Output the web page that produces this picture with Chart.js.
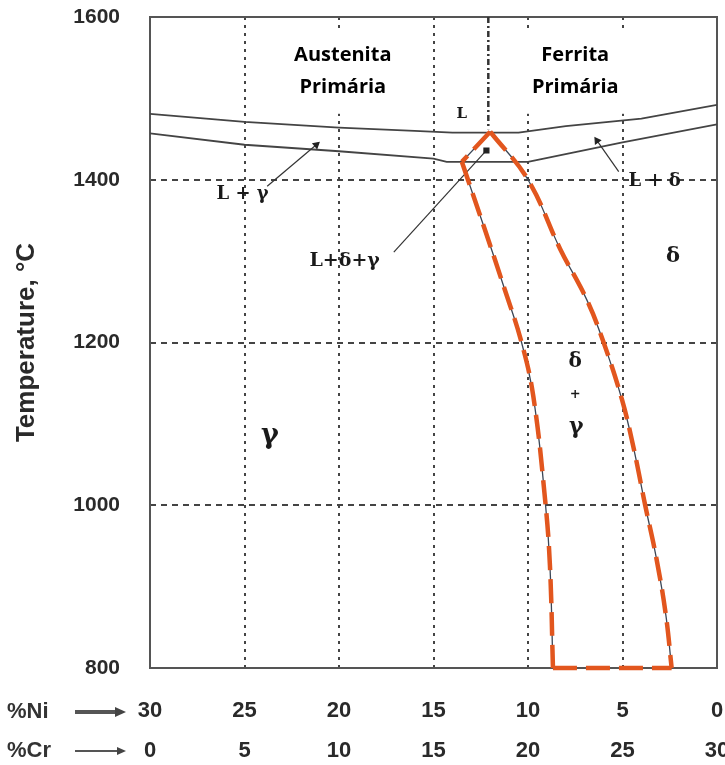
<!DOCTYPE html>
<html>
<head>
<meta charset="utf-8">
<script src="https://cdn.jsdelivr.net/npm/chart.js@4.4.1/dist/chart.umd.min.js"></script>
<style>
  html, body { margin: 0; padding: 0; background: #fff; }
  #wrap { width: 725px; height: 765px; }
</style>
</head>
<body>
<div id="wrap"><canvas id="chart"></canvas></div>
<script>
const niTicks = [30, 25, 20, 15, 10, 5, 0];
const crTicks = [0, 5, 10, 15, 20, 25, 30];
const tempTicks = [800, 1000, 1200, 1400, 1600];

// liquidus (upper) and solidus (lower)
const liquidusNi = [30, 25, 20, 16, 14, 10.5, 8, 4, 0];
const liquidusT  = [1481, 1471, 1464, 1460, 1458, 1458, 1466, 1475, 1492];
const solidusNi  = [30, 25, 20, 15, 14.3, 10, 7.5, 5, 0];
const solidusT   = [1457, 1443, 1435, 1426, 1422, 1422, 1434, 1446, 1468];

// boundaries of the delta + gamma field (first point = peak)
const gammaSideNi = [12.0, 13.5, 12.3, 11.3, 10.34, 9.72, 9.1, 8.84, 8.68];
const gammaSideT  = [1459, 1422, 1340, 1270, 1200, 1134, 1008, 926, 800];
const deltaSideNi = [12.0, 10.0, 8.3, 6.9, 6.03, 5.03, 4.4, 3.8, 3.2, 2.7, 2.4];
const deltaSideT  = [1459, 1400, 1315, 1253, 1202, 1130, 1069, 1000, 934, 864, 800];

// vertical mark at the eutectic composition
const eutecticNi = [12.1, 12.1];
const eutecticT  = [1600, 1462];

// leader lines for the small fields (from label to field)
const leaderNi = [[23.8, 21.2], [17.1, 12.2], [5.2, 6.35]];
const leaderT  = [[1392, 1443], [1311, 1436], [1410, 1448]];

// field labels
const fieldText = ['L + γ', 'L+δ+γ', 'L + δ', 'L', 'δ', 'δ', '+', 'γ', 'γ'];
const fieldNi   = [25.1, 19.7, 3.3, 13.5, 2.33, 7.5, 7.5, 7.45, 23.65];
const fieldT    = [1382, 1300, 1398, 1481, 1306, 1176, 1136, 1096, 1085];
const fieldSize = [18, 19, 18, 15, 21, 20, 13, 22, 27];

// the two boxed captions
const captionText = [['Austenita', 'Primária'], ['Ferrita', 'Primária']];
const captionNi   = [19.8, 7.5];
const captionT    = [1553, 1513];

const RED = '#e2561e';
const DARK = '#3b4656';
const sans = "'Liberation Sans', Arial, sans-serif";

const pts = (xs, ys) => xs.map((x, i) => ({ x: x, y: ys[i] }));

const gammaPts = pts(gammaSideNi, gammaSideT);
const deltaPts = pts(deltaSideNi, deltaSideT);
const gammaCurve = gammaPts.slice(1);
const bottomEdge = [gammaPts[gammaPts.length - 1], deltaPts[deltaPts.length - 1]];

const datasets = [
  { data: gammaPts.slice(0, 2), borderColor: RED, borderWidth: 4.5, borderDash: [24, 9], order: 0 },
  { data: gammaCurve, borderColor: RED, borderWidth: 4.5, borderDash: [24, 9], tension: 0.4, order: 0, clip: 8 },
  { data: bottomEdge, borderColor: RED, borderWidth: 4.5, borderDash: [24, 9], order: 0, clip: 8 },
  { data: deltaPts, borderColor: RED, borderWidth: 4.5, borderDash: [24, 9], tension: 0.4, order: 0, clip: 8 },
  { data: gammaPts.slice(0, 2), borderColor: DARK, borderWidth: 1.3, order: 1 },
  { data: gammaCurve, borderColor: DARK, borderWidth: 1.3, tension: 0.4, order: 1 },
  { data: deltaPts, borderColor: DARK, borderWidth: 1.3, tension: 0.4, order: 1 },
  { data: pts(liquidusNi, liquidusT), borderColor: '#444', borderWidth: 1.8, order: 2 },
  { data: pts(solidusNi, solidusT), borderColor: '#444', borderWidth: 1.8, order: 2 },
  { data: pts(eutecticNi, eutecticT), borderColor: '#333', borderWidth: 2.5, borderDash: [6, 3, 2, 3], order: 2 }
];

const leaderEnds = [
  { style: 'triangle', rot: 50, r: 3.5 },
  { style: 'rect', rot: 0, r: 3.5 },
  { style: 'triangle', rot: -34, r: 3.5 }
];
leaderNi.forEach((xs, i) => {
  datasets.push({
    data: pts(xs, leaderT[i]),
    borderColor: '#333', borderWidth: 1.2, order: 1,
    pointRadius: [0, leaderEnds[i].r], pointStyle: leaderEnds[i].style,
    pointRotation: leaderEnds[i].rot, pointBackgroundColor: '#222', pointBorderColor: '#222'
  });
});

datasets.forEach(d => {
  d.xAxisID = 'ni';
  d.yAxisID = 'y';
  d.fill = false;
  if (d.tension === undefined) d.tension = 0;
  if (d.pointRadius === undefined) d.pointRadius = 0;
});

const decor = {
  id: 'decor',
  beforeDatasetsDraw(chart) {
    const { ctx, chartArea: a, scales } = chart;
    ctx.save();
    // white boxes behind the captions hide the grid
    ctx.font = "bold 20px 'Open Sans', sans-serif";
    captionText.forEach((lines, i) => {
      const cx = scales.ni.getPixelForValue(captionNi[i]);
      const y1 = scales.y.getPixelForValue(captionT[0]);
      const y2 = scales.y.getPixelForValue(captionT[1]);
      const w = Math.max(...lines.map(s => ctx.measureText(s).width));
      ctx.fillStyle = '#fff';
      ctx.fillRect(cx - w / 2 - 12, y1 - 26, w + 24, y2 - y1 + 52);
    });
    ctx.strokeStyle = '#555';
    ctx.lineWidth = 2;
    ctx.strokeRect(a.left, a.top, a.right - a.left, a.bottom - a.top);
    ctx.restore();
  },
  afterDatasetsDraw(chart) {
    const { ctx, scales } = chart;
    ctx.save();
    ctx.textAlign = 'center';
    ctx.textBaseline = 'middle';
    ctx.fillStyle = '#1a1a1a';
    fieldText.forEach((s, i) => {
      ctx.font = 'bold ' + fieldSize[i] + "px 'DejaVu Serif', serif";
      ctx.fillText(s, scales.ni.getPixelForValue(fieldNi[i]), scales.y.getPixelForValue(fieldT[i]));
    });
    ctx.font = "bold 20px 'Open Sans', sans-serif";
    ctx.fillStyle = '#000';
    captionText.forEach((lines, i) => {
      const cx = scales.ni.getPixelForValue(captionNi[i]);
      lines.forEach((s, j) => ctx.fillText(s, cx, scales.y.getPixelForValue(captionT[j])));
    });
    ctx.restore();
  },
  afterDraw(chart) {
    const { ctx, scales } = chart;
    const rows = [
      { text: '%Ni', y: 712, lw: 4, head: 11 },
      { text: '%Cr', y: 751, lw: 2, head: 9 }
    ];
    const end = scales.ni.getPixelForValue(30) - 24;
    ctx.save();
    ctx.textBaseline = 'middle';
    ctx.textAlign = 'left';
    ctx.font = 'bold 22px ' + sans;
    ctx.strokeStyle = '#555';
    rows.forEach(r => {
      ctx.fillStyle = '#333';
      ctx.fillText(r.text, 7, r.y);
      ctx.lineWidth = r.lw;
      ctx.beginPath();
      ctx.moveTo(75, r.y);
      ctx.lineTo(end - r.head + 2, r.y);
      ctx.stroke();
      ctx.fillStyle = '#444';
      ctx.beginPath();
      ctx.moveTo(end, r.y);
      ctx.lineTo(end - r.head, r.y - r.head / 2.2);
      ctx.lineTo(end - r.head, r.y + r.head / 2.2);
      ctx.closePath();
      ctx.fill();
    });
    ctx.restore();
  }
};

const xGridColor = c => (c.tick && (c.tick.value === 0 || c.tick.value === 30)) ? 'rgba(0,0,0,0)' : '#444';
const yGridColor = c => (c.tick && (c.tick.value === 800 || c.tick.value === 1600)) ? 'rgba(0,0,0,0)' : '#444';
const plain = v => String(v);

new Chart(document.getElementById('chart'), {
  type: 'line',
  data: { datasets: datasets },
  plugins: [decor],
  options: {
    responsive: true,
    maintainAspectRatio: false,
    animation: false,
    layout: { padding: { top: 17, right: 8, bottom: 0, left: 0 } },
    plugins: { legend: { display: false }, tooltip: { enabled: false } },
    scales: {
      ni: {
        type: 'linear', position: 'bottom', reverse: true, min: 0, max: 30, weight: 0,
        afterBuildTicks: s => { s.ticks = niTicks.map(v => ({ value: v })); },
        afterFit: s => { s.height = 69; s.paddingLeft = 0; s.paddingRight = 0; },
        grid: { color: xGridColor, lineWidth: 2, drawTicks: false },
        border: { display: false, dash: [3, 5] },
        ticks: { padding: 30, autoSkip: false, maxRotation: 0, color: '#2a2a2a', callback: plain,
                 font: { family: sans, size: 22, weight: 'bold' } }
      },
      cr: {
        type: 'linear', position: 'bottom', min: 0, max: 30, weight: 1,
        afterBuildTicks: s => { s.ticks = crTicks.map(v => ({ value: v })); },
        afterFit: s => { s.height = 28; s.paddingLeft = 0; s.paddingRight = 0; },
        grid: { display: false, drawTicks: false },
        border: { display: false },
        ticks: { padding: 1, autoSkip: false, maxRotation: 0, color: '#2a2a2a', callback: plain,
                 font: { family: sans, size: 22, weight: 'bold' } }
      },
      y: {
        type: 'linear', position: 'left', min: 800, max: 1600,
        afterBuildTicks: s => { s.ticks = tempTicks.map(v => ({ value: v })); },
        afterFit: s => { s.width = 150; s.paddingTop = 0; s.paddingBottom = 0; },
        grid: { color: yGridColor, lineWidth: 2, drawTicks: false },
        border: { display: false, dash: [6, 5] },
        ticks: { padding: 30, color: '#2a2a2a', callback: plain,
                 font: { family: sans, size: 21, weight: 'bold' } },
        title: { display: true, text: 'Temperature, °C', color: '#2a2a2a',
                 padding: { top: 11, bottom: 0 },
                 font: { family: sans, size: 26, weight: 'bold' } }
      }
    }
  }
});
</script>
</body>
</html>
